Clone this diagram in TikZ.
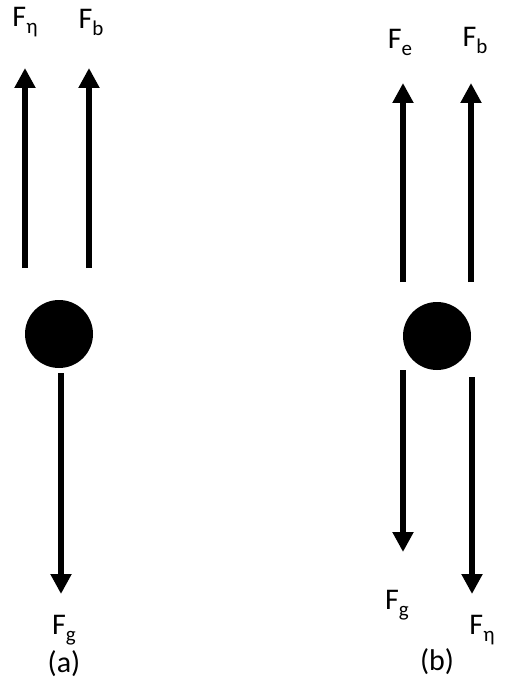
\documentclass[tikz,border=0pt]{standalone}
\usepackage{fontspec}
\setmainfont{Carlito}
\usetikzlibrary{arrows.meta}
\newcommand{\fsub}[1]{F\raisebox{-7pt}{\fontsize{21}{23}\selectfont #1}}
\begin{document}
\begin{tikzpicture}[x=1pt,y=-1pt,
  force/.style={line width=5.5pt,-{Triangle[length=20pt,width=20pt]}},
  ball/.style={circle,fill=black,minimum size=68pt,inner sep=0pt},
  lbl/.style={font=\fontsize{30}{34}\selectfont,inner sep=0pt}]
\useasboundingbox (0,0) rectangle (507,690);
% (a)
\node[ball] (ba) at (59,334) {};
\coordinate (a1s) at (25,268); \coordinate (a1e) at (25,68);
\coordinate (a2s) at (89,268); \coordinate (a2e) at (89,68);
\coordinate (a3s) at (61,373); \coordinate (a3e) at (61,594);
\draw[force] (a1s) -- (a1e);
\draw[force] (a2s) -- (a2e);
\draw[force] (a3s) -- (a3e);
\node[lbl] (la1) at (25,22) {\fsub{η}};
\node[lbl] (la2) at (91,22) {\fsub{b}};
\node[lbl] (la3) at (64,630) {\fsub{g}};
\node[lbl] (ca) at (64,664) {(a)};
% (b)
\node[ball] (bb) at (437,336) {};
\coordinate (b1s) at (403,282); \coordinate (b1e) at (403,83);
\coordinate (b2s) at (471,282); \coordinate (b2e) at (471,83);
\coordinate (b3s) at (403,370); \coordinate (b3e) at (403,552);
\coordinate (b4s) at (472,377); \coordinate (b4e) at (472,594);
\draw[force] (b1s) -- (b1e);
\draw[force] (b2s) -- (b2e);
\draw[force] (b3s) -- (b3e);
\draw[force] (b4s) -- (b4e);
\node[lbl] (lb1) at (400,42) {\fsub{e}};
\node[lbl] (lb2) at (475,40) {\fsub{b}};
\node[lbl] (lb3) at (397,605) {\fsub{g}};
\node[lbl] (lb4) at (482,630) {\fsub{η}};
\node[lbl] (cb) at (437,662) {(b)};
\end{tikzpicture}
\end{document}
